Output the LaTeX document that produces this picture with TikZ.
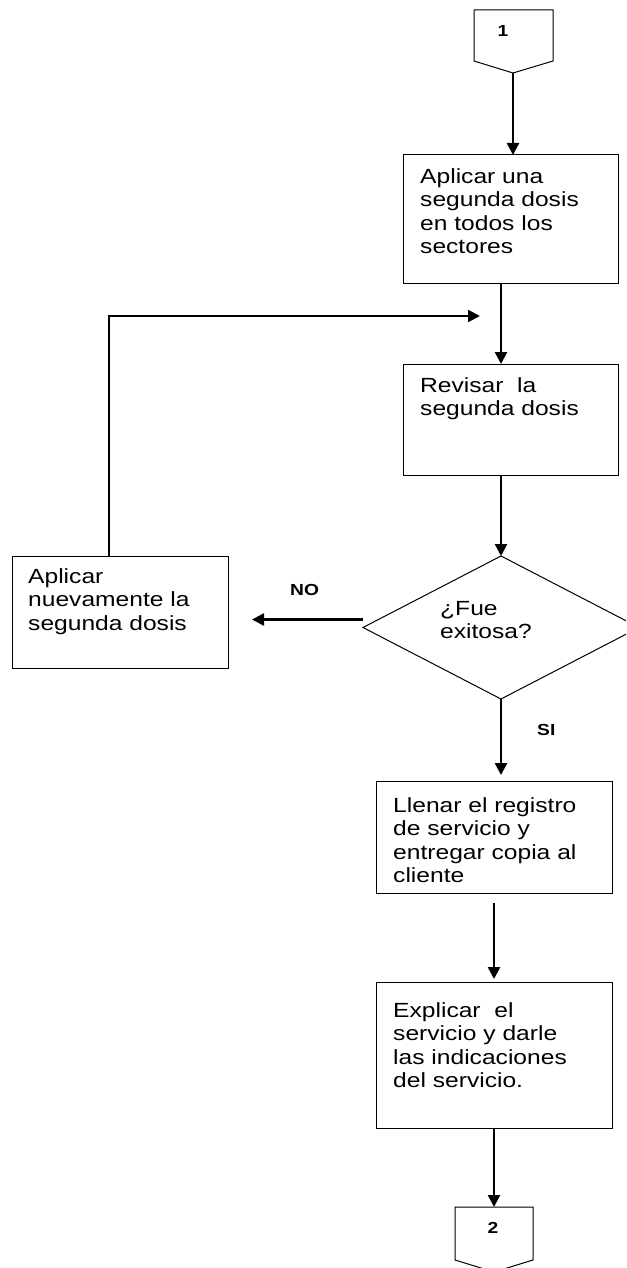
\documentclass[tikz,border=0pt]{standalone}
\usepackage{graphicx}
\usepackage{fontspec}
\setmainfont{Liberation Sans}
\usetikzlibrary{shapes.geometric,arrows.meta}
\newcommand{\sx}[1]{\scalebox{1.2}[1]{#1}}
\begin{document}
\begin{tikzpicture}[x=1pt,y=-1pt,
  bx/.style={draw=black,line width=1pt},
  boxnode/.style={bx,rectangle,inner sep=0pt,outer sep=0pt},
  arr/.style={line width=2.5pt,-{Triangle[length=12pt,width=12pt]}},
  arrthin/.style={line width=2pt,-{Triangle[length=12pt,width=12pt]}},
  txt/.style={anchor=north west,inner sep=0pt,align=left,font=\fontsize{20.5}{23.5}\selectfont},
  lbl/.style={anchor=base west,inner sep=0pt,font=\fontsize{16}{19}\selectfont\bfseries},
  num/.style={anchor=center,inner sep=0pt,font=\fontsize{16}{19}\selectfont\bfseries}]
\useasboundingbox (0,0) rectangle (626,1268);
\clip (0,0) rectangle (626,1268);
\fill[white] (0,0) rectangle (626,1268);

% off-page connector 1
\draw[bx] (474,10) -- (553,10) -- (553,61) -- (513,73) -- (474,61) -- cycle;
\coordinate (c1) at (513,73);
\node[num] (n1) at (503,31) {\sx{1}};

% boxes
\node[boxnode,minimum width=215pt,minimum height=128pt] (A) at (510.5,219) {};
\node[boxnode,minimum width=215pt,minimum height=111pt] (B) at (510.5,419.5) {};
\node[bx,diamond,inner sep=0pt,outer sep=0pt,minimum width=276pt,minimum height=143pt] (D) at (501,627.5) {};
\node[boxnode,minimum width=216pt,minimum height=112pt] (L) at (120,612) {};
\node[boxnode,minimum width=236pt,minimum height=112pt] (E) at (494,837) {};
\node[boxnode,minimum width=236pt,minimum height=146pt] (F) at (494,1055) {};

% off-page connector 2
\draw[bx] (455,1207) -- (533,1207) -- (533,1260) -- (494,1272) -- (455,1260) -- cycle;
\coordinate (c2) at (494,1207);
\node[num] (n2) at (493,1228) {\sx{2}};

% texts
\node[txt] (tA) at (420,168) {\sx{Aplicar una}\\\sx{segunda dosis}\\\sx{en todos los}\\\sx{sectores}};
\node[txt] (tB) at (420,377) {\sx{Revisar\ \ la}\\\sx{segunda dosis}};
\node[txt] (tL) at (28,568) {\sx{Aplicar}\\\sx{nuevamente la}\\\sx{segunda dosis}};
\node[txt] (tD) at (440,601) {\sx{¿Fue}\\\sx{exitosa?}};
\node[txt] (tE) at (393,797) {\sx{Llenar el registro}\\\sx{de servicio y}\\\sx{entregar copia al}\\\sx{cliente}};
\node[txt] (tF) at (393,1002) {\sx{Explicar\ \ el}\\\sx{servicio y darle}\\\sx{las indicaciones}\\\sx{del servicio.}};

\node[lbl] (no) at (290,595) {\sx{NO}};
\node[lbl] (si) at (537,735) {\sx{SI}};

% connectors
\draw[arr] (c1) -- (c1 |- A.north);
\draw[arr] (A.south -| D.north) -- (B.north -| D.north);
\draw[arr] (B.south -| D.north) -- (D.north);
\coordinate (loop) at (109,316);
\coordinate (looptip) at (480,316);
\draw[arrthin] (L.north -| loop) -- (loop) -- (looptip);
\coordinate (notip) at (252,619.5);
\draw[arr] ([yshift=8pt]D.west) -- (notip);
\draw[arr,shorten >=6pt] (D.south) -- (E.north -| D.south);
\draw[arr,shorten <=10pt,shorten >=3pt] (E.south) -- (F.north);
\draw[arr] (F.south) -- (c2);
\end{tikzpicture}
\end{document}
